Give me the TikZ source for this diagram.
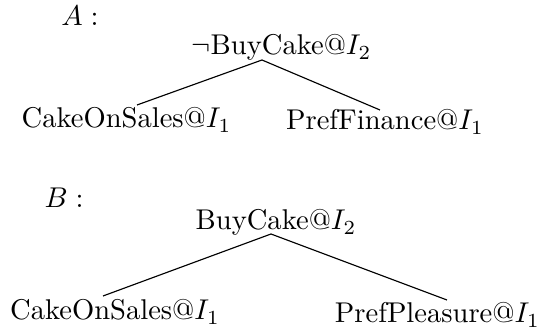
\documentclass[tikz,border=0pt]{standalone}
\begin{document}
\begin{tikzpicture}[x=0.35pt,y=-0.35pt,
  lbl/.style={anchor=base,inner sep=0pt,outer sep=0pt},
  edge/.style={line width=0.4pt}]
\useasboundingbox (0,0) rectangle (549,329);
% Tree A
\node[lbl] (la) at (80,26) {$A:$};
\node[lbl] (ra) at (281.5,55) {$\neg$BuyCake@$I_2$};
\node[lbl] (a1) at (126.5,128) {CakeOnSales@$I_1$};
\node[lbl] (a2) at (385,130) {PrefFinance@$I_1$};
\coordinate (ra0) at (262,60);
\coordinate (a1t) at (137,105);
\coordinate (a2t) at (380,110);
\draw[edge] (a1t) -- (ra0) -- (a2t);
% Tree B
\node[lbl] (lb) at (64,208) {$B:$};
\node[lbl] (rb) at (276,230) {BuyCake@$I_2$};
\node[lbl] (b1) at (115,320) {CakeOnSales@$I_1$};
\node[lbl] (b2) at (437.5,323) {PrefPleasure@$I_1$};
\coordinate (rb0) at (271,234);
\coordinate (b1t) at (103,296);
\coordinate (b2t) at (447,300);
\draw[edge] (b1t) -- (rb0) -- (b2t);
\end{tikzpicture}
\end{document}
